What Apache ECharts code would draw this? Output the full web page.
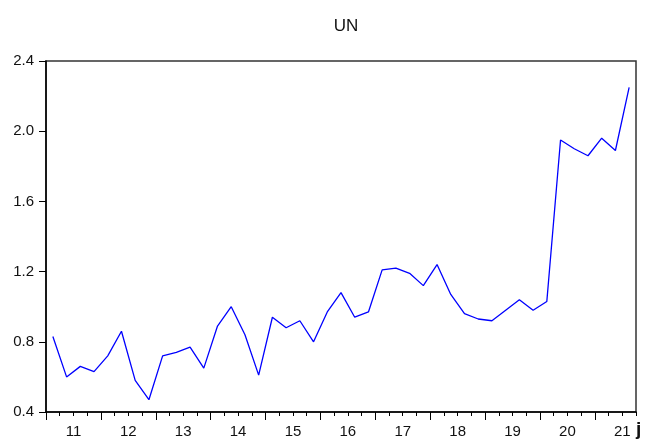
<!DOCTYPE html>
<html>
<head>
<meta charset="utf-8">
<script src="https://cdn.jsdelivr.net/npm/echarts@6/dist/echarts.min.js"></script>
<style>html,body{margin:0;padding:0;background:#fff}#c{width:646px;height:439px}</style>
</head>
<body>
<div id="c"></div>
<script>
// Quarterly series UN, 2011Q1 - 2021Q3
var quarters = ["2011Q1","2011Q2","2011Q3","2011Q4","2012Q1","2012Q2","2012Q3","2012Q4",
  "2013Q1","2013Q2","2013Q3","2013Q4","2014Q1","2014Q2","2014Q3","2014Q4",
  "2015Q1","2015Q2","2015Q3","2015Q4","2016Q1","2016Q2","2016Q3","2016Q4",
  "2017Q1","2017Q2","2017Q3","2017Q4","2018Q1","2018Q2","2018Q3","2018Q4",
  "2019Q1","2019Q2","2019Q3","2019Q4","2020Q1","2020Q2","2020Q3","2020Q4",
  "2021Q1","2021Q2","2021Q3"];
var unValues = [0.83,0.60,0.66,0.63,0.72,0.86,0.58,0.47,
  0.72,0.74,0.77,0.65,0.89,1.00,0.84,0.61,
  0.94,0.88,0.92,0.80,0.97,1.08,0.94,0.97,
  1.21,1.22,1.19,1.12,1.24,1.07,0.96,0.93,
  0.92,0.98,1.04,0.98,1.03,1.95,1.90,1.86,
  1.96,1.89,2.25];
var yearLabels = ["11","12","13","14","15","16","17","18","19","20","21"];
var yTicks = [0.4,0.8,1.2,1.6,2.0,2.4];

var n = quarters.length;
var seriesData = unValues.map(function(v,i){ return [i+0.5, v]; });
var quarterBounds = []; for (var i=0;i<=n;i++) quarterBounds.push(i);
var yearBounds = []; for (var j=0;j<n;j+=4) yearBounds.push(j);
var yearCenters = yearLabels.map(function(_,k){ return k*4+2; });

var chart = echarts.init(document.getElementById('c'), null, {renderer:'canvas'});
var font = 'Liberation Sans, Arial, sans-serif';
chart.setOption({
  animation:false,
  backgroundColor:'#fff',
  title:{text:'UN', left:341, top:13, textAlign:'center',
    textStyle:{fontFamily:font, fontSize:17, fontWeight:'normal', color:'#111'}},
  grid:{left:46, top:61, right:10, bottom:27, show:true, borderColor:'#333', borderWidth:1.5, backgroundColor:'#fff'},
  xAxis:[{
    type:'value', min:0, max:n, position:'bottom',
    axisLine:{show:true, lineStyle:{color:'#000', width:1.5}},
    axisTick:{show:true, customValues:quarterBounds, length:4, lineStyle:{color:'#000', width:1}},
    axisLabel:{show:true, customValues:yearCenters, margin:12,
      formatter:function(v){ var k=Math.round((v-2)/4); return yearLabels[k]||''; },
      fontFamily:font, fontSize:15, color:'#111'},
    splitLine:{show:false}
  },{
    type:'value', min:0, max:n, position:'bottom',
    axisLine:{show:false},
    axisTick:{show:true, customValues:yearBounds, length:8, lineStyle:{color:'#000', width:1}},
    axisLabel:{show:false},
    splitLine:{show:false}
  }],
  yAxis:{
    type:'value', min:yTicks[0], max:yTicks[yTicks.length-1], interval:0.4,
    axisLine:{show:true, lineStyle:{color:'#000', width:1.5}},
    axisTick:{show:true, length:7, lineStyle:{color:'#000'}},
    axisLabel:{formatter:function(v){return v.toFixed(1);}, fontFamily:font, fontSize:15, color:'#111', margin:12},
    splitLine:{show:false}
  },
  series:[{
    type:'line', xAxisIndex:0, data:seriesData, showSymbol:false,
    lineStyle:{color:'#0000ff', width:1.3}, itemStyle:{color:'#0000ff'}
  }],
  graphic:[{type:'text', left:636, top:420,
    style:{text:'j', font:'bold 19px '+font, fill:'#111'}}]
});
</script>
</body>
</html>
